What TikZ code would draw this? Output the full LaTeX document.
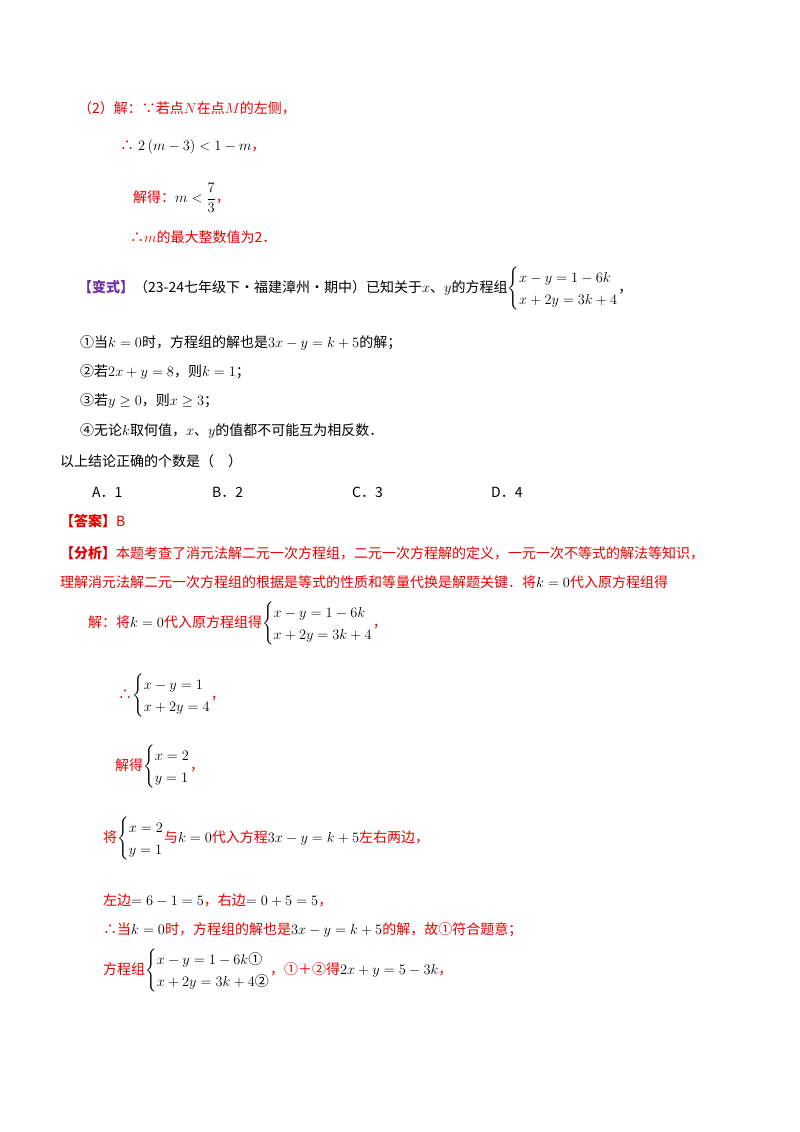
\documentclass[tikz,border=0pt]{standalone}
\usepackage{amsmath}
\usepackage{fontspec}
\setmainfont{Noto Sans CJK SC}
\definecolor{rd}{RGB}{230,0,0}
\definecolor{pp}{RGB}{112,48,160}
\newcommand{\sysx}[2]{\left\{\renewcommand{\arraystretch}{1.3}\begin{array}{@{}l@{}}#1\\#2\end{array}\right.}
\begin{document}
\begin{tikzpicture}[x=1pt,y=-1pt,
  t/.style={anchor=west,inner sep=0pt,font=\fontsize{14}{17}\selectfont},
  r/.style={t,text=rd}]
\useasboundingbox (0,0) rectangle (800,1132);
\node[r] (l1) at (78,108) {（2）解：∵若点$N$在点$M$的左侧，};
\node[r] (l2) at (120,147) {∴\;\textcolor{black}{$2\left(m-3\right)<1-m$}，};
\node[r] (l3) at (133,198) {解得：\textcolor{black}{$m<\dfrac{7}{3}$}，};
\node[r] (l4) at (130,237) {∴$m$的最大整数值为2．};
\node[t] (l5) at (78,289) {\textcolor{pp}{\bfseries【变式】}（23-24七年级下·福建漳州·期中）已知关于$x$、$y$的方程组$\sysx{x-y=1-6k}{x+2y=3k+4}$，};
\node[t] (q1) at (80,343) {①当$k=0$时，方程组的解也是$3x-y=k+5$的解；};
\node[t] (q2) at (80,372) {②若$2x+y=8$，则$k=1$；};
\node[t] (q3) at (80,401) {③若$y\geq 0$，则$x\geq 3$；};
\node[t] (q4) at (80,431) {④无论$k$取何值，$x$、$y$的值都不可能互为相反数．};
\node[t] (q5) at (60,461) {以上结论正确的个数是（\quad）};
\node[t] (oa) at (92,492) {A．1};
\node[t] (ob) at (212,492) {B．2};
\node[t] (oc) at (352,492) {C．3};
\node[t] (od) at (491,492) {D．4};
\node[r] (ans) at (60,521) {{\bfseries【答案】}B};
\node[r] (f1) at (60,553) {{\bfseries【分析】}本题考查了消元法解二元一次方程组，二元一次方程解的定义，一元一次不等式的解法等知识，};
\node[r] (f2) at (60,582) {理解消元法解二元一次方程组的根据是等式的性质和等量代换是解题关键．将\textcolor{black}{$k=0$}代入原方程组得};
\node[r] (s1) at (88,624) {解：将\textcolor{black}{$k=0$}代入原方程组得\textcolor{black}{$\sysx{x-y=1-6k}{x+2y=3k+4}$}，};
\node[r] (s2) at (118,696) {∴\textcolor{black}{$\sysx{x-y=1}{x+2y=4}$}，};
\node[r] (s3) at (115,767) {解得\textcolor{black}{$\sysx{x=2}{y=1}$}，};
\node[r] (s4) at (103,839) {将\textcolor{black}{$\sysx{x=2}{y=1}$}与\textcolor{black}{$k=0$}代入方程\textcolor{black}{$3x-y=k+5$}左右两边，};
\node[r] (s5) at (103,900) {左边\textcolor{black}{$=6-1=5$}，右边\textcolor{black}{$=0+5=5$}，};
\node[r] (s6) at (103,930) {∴当\textcolor{black}{$k=0$}时，方程组的解也是\textcolor{black}{$3x-y=k+5$}的解，故①符合题意；};
\node[r] (s7) at (103,971) {方程组\textcolor{black}{$\sysx{x-y=1-6k\text{①}}{x+2y=3k+4\text{②}}$}，①＋②得\textcolor{black}{$2x+y=5-3k$}，};
\end{tikzpicture}
\end{document}
